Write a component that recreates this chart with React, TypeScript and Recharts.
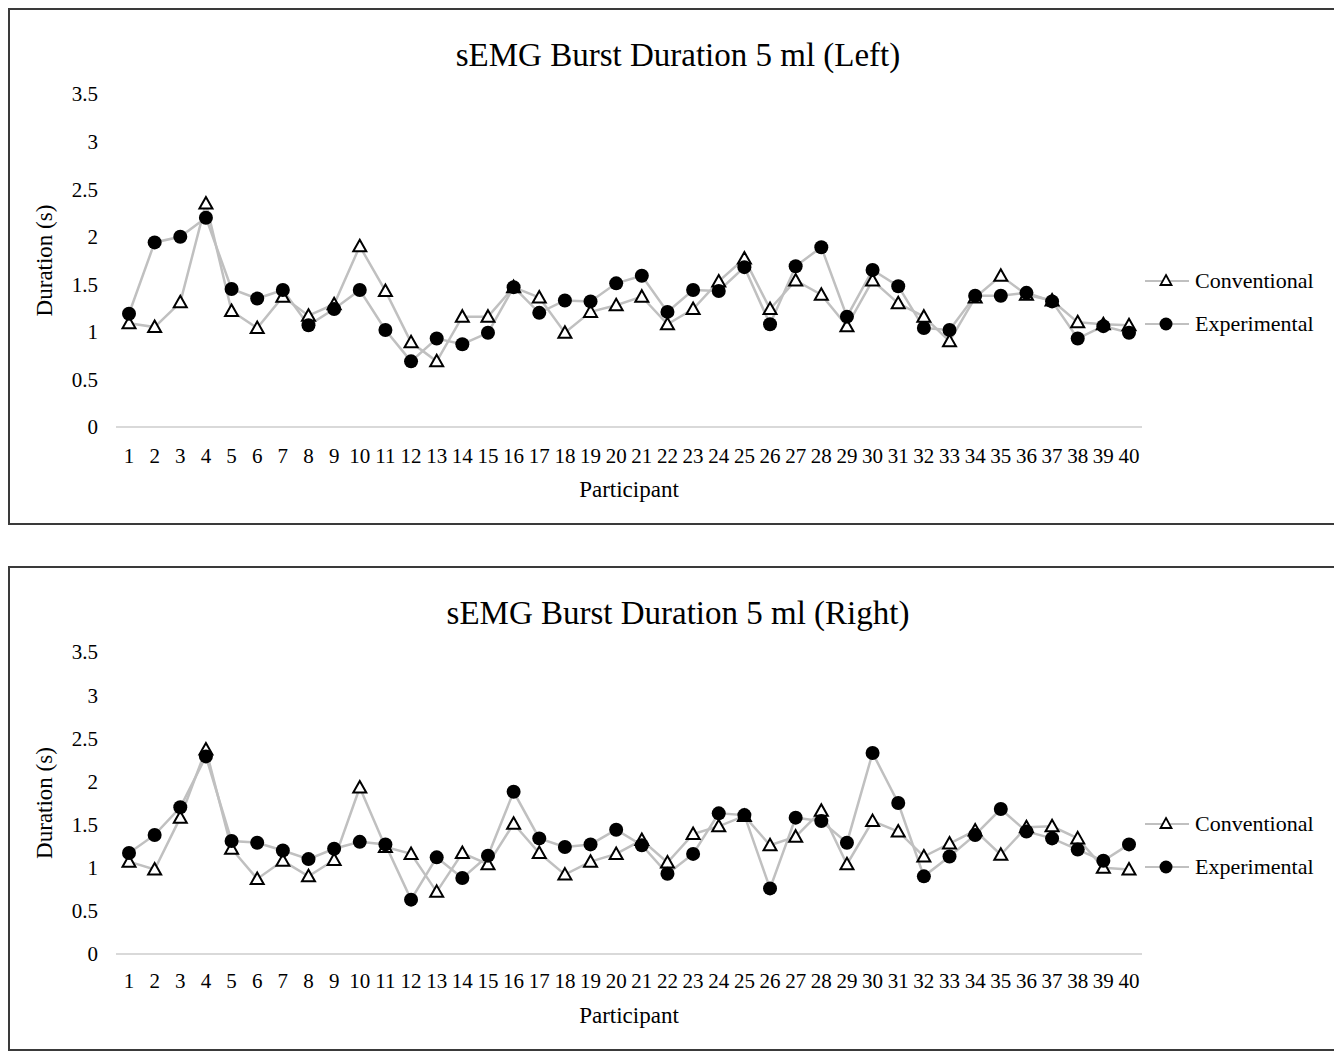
import { LineChart, Line, XAxis, YAxis } from "recharts";

const participants = Array.from({ length: 40 }, (_, i) => String(i + 1));
const yTicks = [0, 0.5, 1, 1.5, 2, 2.5, 3, 3.5];

const leftConventional = [
  1.09, 1.05, 1.31, 2.35, 1.22, 1.04, 1.37, 1.17, 1.29, 1.9, 1.43, 0.89, 0.69, 1.16, 1.16, 1.47, 1.36, 0.99, 1.21, 1.28,
  1.37, 1.08, 1.24, 1.53, 1.77, 1.24, 1.54, 1.39, 1.06, 1.54, 1.3, 1.16, 0.9, 1.36, 1.59, 1.39, 1.33, 1.1, 1.08, 1.07,
];
const leftExperimental = [
  1.19, 1.94, 2.0, 2.2, 1.45, 1.35, 1.44, 1.07, 1.24, 1.44, 1.02, 0.69, 0.93, 0.87, 0.99, 1.47, 1.2, 1.33, 1.32, 1.51,
  1.59, 1.21, 1.44, 1.43, 1.68, 1.08, 1.69, 1.89, 1.16, 1.65, 1.48, 1.04, 1.02, 1.38, 1.38, 1.41, 1.32, 0.93, 1.06, 0.99,
];
const rightConventional = [
  1.07, 0.98, 1.58, 2.37, 1.22, 0.87, 1.08, 0.9, 1.09, 1.93, 1.24, 1.16, 0.72, 1.17, 1.04, 1.51, 1.17, 0.92, 1.07, 1.16,
  1.32, 1.06, 1.39, 1.48, 1.6, 1.26, 1.36, 1.66, 1.04, 1.54, 1.42, 1.13, 1.28, 1.43, 1.15, 1.47, 1.48, 1.34, 1.0, 0.98,
];
const rightExperimental = [
  1.17, 1.38, 1.7, 2.29, 1.31, 1.29, 1.2, 1.1, 1.22, 1.3, 1.27, 0.63, 1.12, 0.88, 1.14, 1.88, 1.34, 1.24, 1.27, 1.44,
  1.26, 0.93, 1.16, 1.63, 1.61, 0.76, 1.58, 1.54, 1.29, 2.33, 1.75, 0.9, 1.13, 1.38, 1.68, 1.42, 1.34, 1.21, 1.08, 1.27,
];

const FONT = '"Liberation Serif", "Times New Roman", serif';
const LINE = "#c0c0c0";

const TriangleDot = (props: any) => {
  const { cx, cy } = props;
  if (cx == null || cy == null) return null;
  return (
    <path
      d={`M${cx},${cy - 6.5} L${cx + 6.5},${cy + 5} L${cx - 6.5},${cy + 5} Z`}
      fill="#fff"
      stroke="#000"
      strokeWidth={2}
    />
  );
};

const CircleDot = (props: any) => {
  const { cx, cy } = props;
  if (cx == null || cy == null) return null;
  return <circle cx={cx} cy={cy} r={7} fill="#000" />;
};

const LegendBox = ({ top }: { top: number }) => (
  <div style={{ position: "absolute", left: 1143, top: top, fontFamily: FONT, fontSize: 22, color: "#000" }}>
    {[
      { name: "Conventional", dot: "tri" },
      { name: "Experimental", dot: "circle" },
    ].map((item) => (
      <div key={item.name} style={{ display: "flex", alignItems: "center", height: 43 }}>
        <svg width={50} height={20}>
          <line x1={2} y1={10} x2={46} y2={10} stroke={LINE} strokeWidth={2} />
          {item.dot === "tri" ? (
            <path d="M23,4 L28.5,14 L17.5,14 Z" fill="#fff" stroke="#000" strokeWidth={1.8} />
          ) : (
            <circle cx={23} cy={10} r={6.5} fill="#000" />
          )}
        </svg>
        <span style={{ marginLeft: 2 }}>{item.name}</span>
      </div>
    ))}
  </div>
);

interface PanelProps {
  title: string;
  conv: number[];
  exp: number[];
  top: number;
  height: number;
  plotTop: number;
  plotBottom: number;
  titleY: number;
  legendY: number;
  tickY: number;
}

const Panel = ({ title, conv, exp, top, height, plotTop, plotBottom, titleY, legendY, tickY }: PanelProps) => {
  const data = participants.map((p, i) => ({
    name: p,
    Conventional: conv[i],
    Experimental: exp[i],
  }));
  const xAxisHeight = top + height - plotBottom;
  const tickMargin = tickY - plotBottom - 6 - 7;

  return (
    <>
      <div
        style={{
          position: "absolute",
          left: 8,
          top: top,
          width: 1340,
          height: height,
          border: "2px solid #3a3a3a",
          boxSizing: "border-box",
        }}
      />
      <div
        style={{
          position: "absolute",
          left: 8,
          width: 1340,
          top: titleY - 20,
          height: 40,
          lineHeight: "40px",
          textAlign: "center",
          fontFamily: FONT,
          fontSize: 33,
          color: "#000",
        }}
      >
        {title}
      </div>
      <div style={{ position: "absolute", left: 0, top: top }}>
        <LineChart
          width={1334}
          height={height}
          data={data}
          margin={{ top: plotTop - top, right: 192, left: 0, bottom: 0 }}
        >
          <XAxis
            dataKey="name"
            height={xAxisHeight}
            padding={{ left: 13, right: 13 }}
            axisLine={{ stroke: "#d9d9d9", strokeWidth: 2 }}
            tickLine={false}
            interval={0}
            tickMargin={tickMargin}
            tick={{ fill: "#000", fontSize: 21, fontFamily: FONT }}
            label={{ value: "Participant", position: "insideBottom", offset: 28, fill: "#000", fontSize: 23, fontFamily: FONT }}
          />
          <YAxis
            domain={[0, 3.5]}
            ticks={yTicks}
            width={116}
            axisLine={false}
            tickLine={false}
            tickMargin={12}
            tick={{ fill: "#000", fontSize: 21, fontFamily: FONT }}
            label={{
              content: (p: any) => {
                const vb = p.viewBox || { y: 0, height: 0 };
                const cx = 44;
                const cy = vb.y + vb.height / 2;
                return (
                  <text
                    x={cx}
                    y={cy}
                    transform={`rotate(-90 ${cx} ${cy})`}
                    textAnchor="middle"
                    dominantBaseline="central"
                    fill="#000"
                    fontSize={23}
                    fontFamily={FONT}
                  >
                    Duration (s)
                  </text>
                );
              },
            }}
          />
          <Line
            type="linear"
            dataKey="Conventional"
            stroke={LINE}
            strokeWidth={2.5}
            dot={<TriangleDot />}
            activeDot={false}
            isAnimationActive={false}
          />
          <Line
            type="linear"
            dataKey="Experimental"
            stroke={LINE}
            strokeWidth={2.5}
            dot={<CircleDot />}
            activeDot={false}
            isAnimationActive={false}
          />
        </LineChart>
      </div>
      <LegendBox top={legendY - 21.5} />
    </>
  );
};

export default function App() {
  return (
    <div
      style={{
        position: "absolute",
        left: 0,
        top: 0,
        width: 1334,
        height: 1051,
        overflow: "hidden",
        background: "#fff",
      }}
    >
      <Panel
        title="sEMG Burst Duration 5 ml (Left)"
        conv={leftConventional}
        exp={leftExperimental}
        top={8}
        height={517}
        plotTop={94}
        plotBottom={427}
        titleY={55}
        legendY={281}
        tickY={455}
      />
      <Panel
        title="sEMG Burst Duration 5 ml (Right)"
        conv={rightConventional}
        exp={rightExperimental}
        top={566}
        height={485}
        plotTop={652}
        plotBottom={954}
        titleY={613}
        legendY={824}
        tickY={980}
      />
    </div>
  );
}
